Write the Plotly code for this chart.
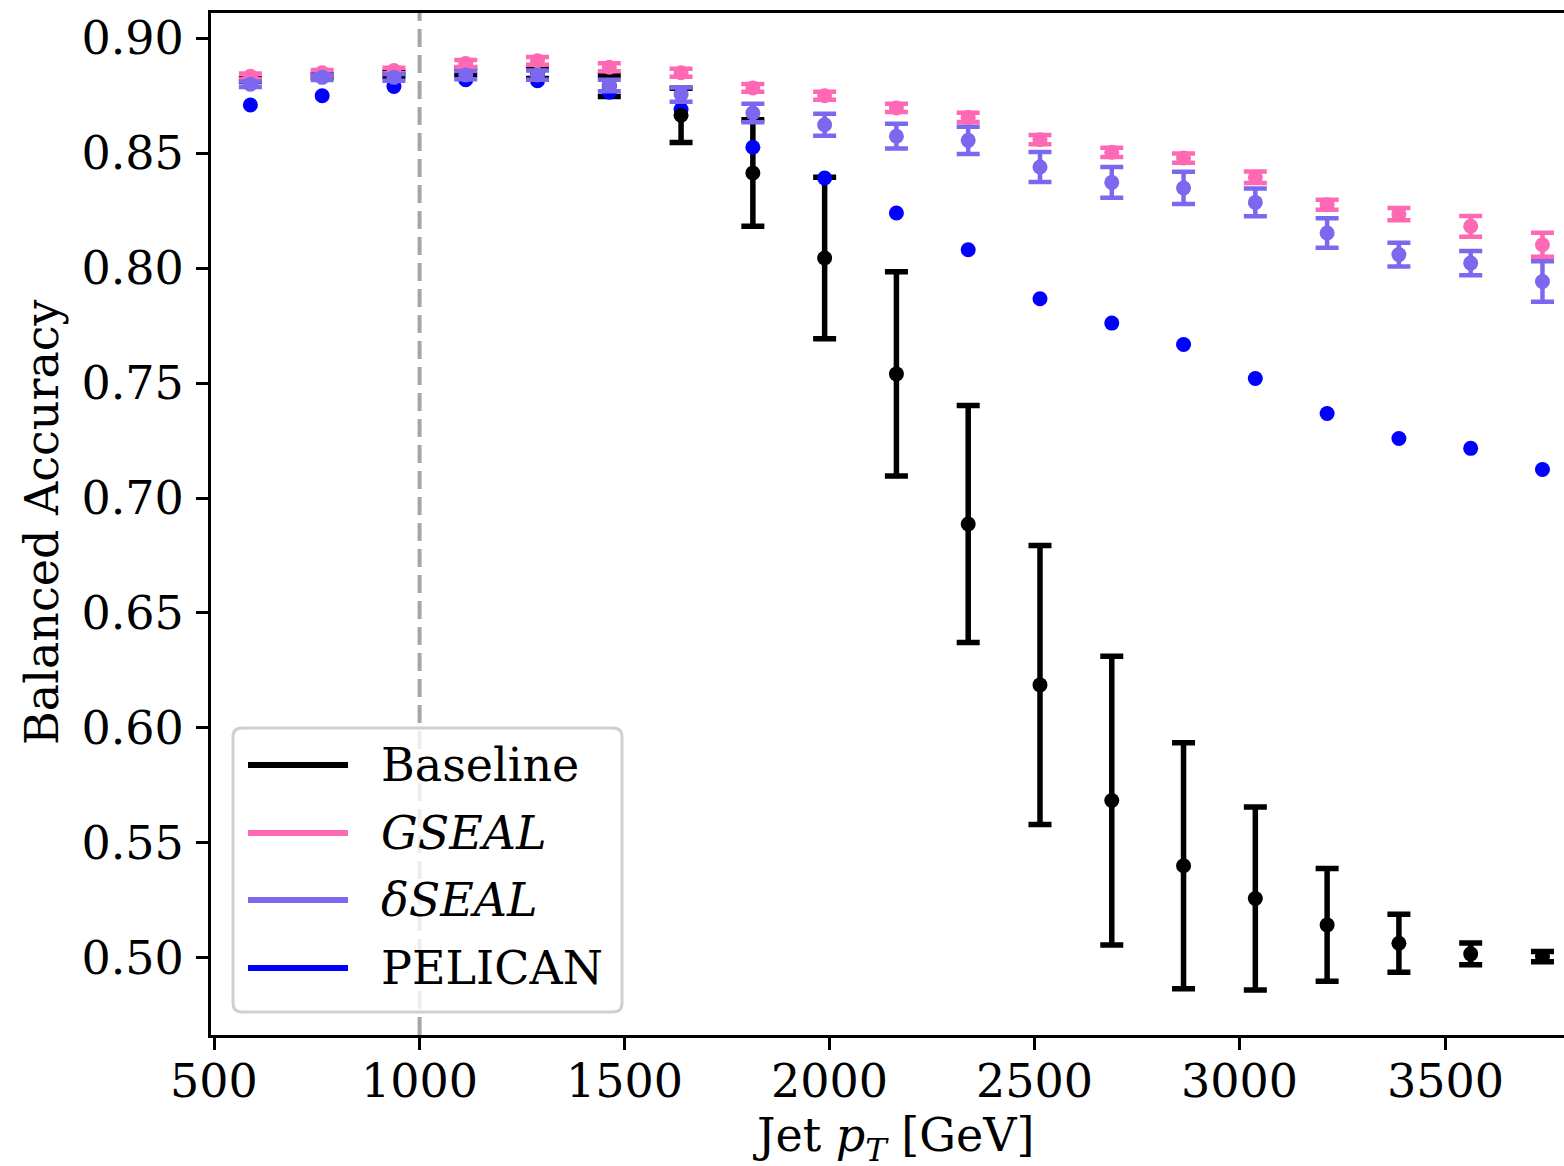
import plotly.graph_objects as go

# Jet pT bin centres [GeV]
pt_centers = [587.5, 762.5, 937.5, 1112.5, 1287.5, 1462.5, 1637.5, 1812.5, 1987.5,
              2162.5, 2337.5, 2512.5, 2687.5, 2862.5, 3037.5, 3212.5, 3387.5, 3562.5, 3737.5]

# Balanced accuracy per model, with uncertainties
baseline = [0.8818, 0.8836, 0.8843, 0.8855, 0.8849, 0.8793, 0.8665, 0.8414, 0.8044,
            0.7540, 0.6887, 0.6187, 0.5684, 0.5400, 0.5258, 0.5143, 0.5063, 0.5017, 0.5005]
baseline_err = [0.0006, 0.0006, 0.0009, 0.0015, 0.0024, 0.0046, 0.0118, 0.0232, 0.0351,
                0.0444, 0.0516, 0.0607, 0.0628, 0.0535, 0.0398, 0.0245, 0.0126, 0.0047, 0.0022]

gseal = [0.8835, 0.8850, 0.8860, 0.8890, 0.8902, 0.8874, 0.8850, 0.8784, 0.8750,
         0.8697, 0.8656, 0.8559, 0.8504, 0.8479, 0.8395, 0.8276, 0.8235, 0.8182, 0.8102]
gseal_err = [0.0012, 0.0012, 0.0012, 0.0015, 0.0017, 0.0017, 0.0017, 0.0017, 0.0017,
             0.0018, 0.0020, 0.0020, 0.0020, 0.0020, 0.0025, 0.0022, 0.0027, 0.0045, 0.0052]

dseal = [0.8800, 0.8830, 0.8830, 0.8840, 0.8840, 0.8795, 0.8755, 0.8675, 0.8624,
         0.8574, 0.8556, 0.8440, 0.8373, 0.8349, 0.8286, 0.8153, 0.8059, 0.8022, 0.7942]
dseal_err = [0.0012, 0.0012, 0.0015, 0.0018, 0.0020, 0.0025, 0.0031, 0.0040, 0.0048,
             0.0054, 0.0059, 0.0065, 0.0067, 0.0070, 0.0060, 0.0064, 0.0052, 0.0053, 0.0088]

pelican = [0.8710, 0.8750, 0.8790, 0.8820, 0.8815, 0.8765, 0.8690, 0.8526, 0.8392,
           0.8240, 0.8080, 0.7867, 0.7761, 0.7668, 0.7520, 0.7368, 0.7259, 0.7216, 0.7124]

x_ticks = [500, 1000, 1500, 2000, 2500, 3000, 3500]
x_ticklabels = ["500", "1000", "1500", "2000", "2500", "3000", "3500"]
y_ticks = [0.50, 0.55, 0.60, 0.65, 0.70, 0.75, 0.80, 0.85, 0.90]
y_ticklabels = ["0.50", "0.55", "0.60", "0.65", "0.70", "0.75", "0.80", "0.85", "0.90"]

legend_names = ["Baseline", "<i>GSEAL</i>", "<i>δSEAL</i>", "PELICAN"]

C_BASE = "#000000"
C_GSEAL = "#ff69b4"
C_DSEAL = "#7b68ee"
C_PELICAN = "#0000ff"
legend_colors = [C_BASE, C_GSEAL, C_DSEAL, C_PELICAN]

FONT = "DejaVu Serif"
FS = 46
MSIZE = 15
ETHICK = 4.5
ETHICK_BASE = 5.5
EWIDTH = 11.5

# figure geometry (pixels)
FIG_W, FIG_H = 1564, 1166
L, R, T, B = 211, 1564, 13, 1035
PW, PH = R - L, B - T


def px(x):
    return (x - L) / PW


def py(y):
    return (B - y) / PH


fig = go.Figure()

# Baseline error bars (drawn under the PELICAN points)
fig.add_trace(go.Scatter(
    x=pt_centers, y=baseline, mode="markers",
    marker=dict(size=MSIZE, color="rgba(0,0,0,0)"),
    error_y=dict(type="data", array=baseline_err, color=C_BASE,
                 thickness=ETHICK_BASE, width=EWIDTH),
    showlegend=False, hoverinfo="skip"))

fig.add_trace(go.Scatter(
    x=pt_centers, y=pelican, mode="markers", name="PELICAN",
    marker=dict(size=MSIZE, color=C_PELICAN, line=dict(width=0)),
    showlegend=False))

fig.add_trace(go.Scatter(
    x=pt_centers, y=baseline, mode="markers", name="Baseline",
    marker=dict(size=MSIZE, color=C_BASE, line=dict(width=0)),
    showlegend=False))

fig.add_trace(go.Scatter(
    x=pt_centers, y=gseal, mode="markers", name="GSEAL",
    marker=dict(size=MSIZE, color=C_GSEAL, line=dict(width=0)),
    error_y=dict(type="data", array=gseal_err, color=C_GSEAL,
                 thickness=ETHICK, width=EWIDTH),
    showlegend=False))

fig.add_trace(go.Scatter(
    x=pt_centers, y=dseal, mode="markers", name="δSEAL",
    marker=dict(size=MSIZE, color=C_DSEAL, line=dict(width=0)),
    error_y=dict(type="data", array=dseal_err, color=C_DSEAL,
                 thickness=ETHICK, width=EWIDTH),
    showlegend=False))

shapes = []
# reference line at 1 TeV
shapes.append(dict(type="line", xref="x", yref="paper", x0=1000, x1=1000, y0=0, y1=1,
                   line=dict(color="#a6a6a6", width=4, dash="18px,8px"), layer="below"))

# legend frame with rounded corners
bx0, by0, bx1, by1, rr = 233, 728, 622, 1012, 9
path = (f"M {px(bx0 + rr)},{py(by0)} L {px(bx1 - rr)},{py(by0)} "
        f"Q {px(bx1)},{py(by0)} {px(bx1)},{py(by0 + rr)} "
        f"L {px(bx1)},{py(by1 - rr)} Q {px(bx1)},{py(by1)} {px(bx1 - rr)},{py(by1)} "
        f"L {px(bx0 + rr)},{py(by1)} Q {px(bx0)},{py(by1)} {px(bx0)},{py(by1 - rr)} "
        f"L {px(bx0)},{py(by0 + rr)} Q {px(bx0)},{py(by0)} {px(bx0 + rr)},{py(by0)} Z")
shapes.append(dict(type="path", xref="paper", yref="paper", path=path,
                   fillcolor="rgba(255,255,255,0.8)",
                   line=dict(color="#d0d0d0", width=3), layer="above"))

annotations = []
rows = [765, 833, 900, 968]
for name, col, ry in zip(legend_names, legend_colors, rows):
    shapes.append(dict(type="line", xref="paper", yref="paper",
                       x0=px(248), x1=px(348), y0=py(ry), y1=py(ry),
                       line=dict(color=col, width=6), layer="above"))
    annotations.append(dict(text=name, xref="paper", yref="paper",
                            x=px(379), y=py(ry), xanchor="left", yanchor="middle",
                            showarrow=False, font=dict(family=FONT, size=FS, color="black")))

# x tick labels, placed just below the tick marks
for tv, tl in zip(x_ticks, x_ticklabels):
    annotations.append(dict(text=tl, xref="x", yref="paper", x=tv, y=py(1081),
                            xanchor="center", yanchor="middle", showarrow=False,
                            font=dict(family=FONT, size=FS, color="black")))

# axis titles
annotations.append(dict(text="Jet <i>p</i><sub><i>T</i></sub> [GeV]", xref="paper", yref="paper",
                        x=px(893), y=py(1138), xanchor="center", yanchor="middle",
                        showarrow=False, font=dict(family=FONT, size=FS, color="black")))
annotations.append(dict(text="Balanced Accuracy", xref="paper", yref="paper",
                        x=px(42), y=py(522), xanchor="center", yanchor="middle",
                        textangle=-90, showarrow=False,
                        font=dict(family=FONT, size=FS, color="black")))

fig.update_layout(
    width=FIG_W, height=FIG_H,
    margin=dict(l=L, r=FIG_W - R, t=T, b=FIG_H - B, pad=0),
    paper_bgcolor="white", plot_bgcolor="white",
    font=dict(family=FONT, size=FS, color="black"),
    shapes=shapes, annotations=annotations,
    showlegend=False,
)

fig.update_xaxes(
    range=[491.5, 3790], tickmode="array", tickvals=x_ticks, showticklabels=False,
    showgrid=False, zeroline=False,
    showline=True, linecolor="black", linewidth=3, mirror=True,
    ticks="outside", ticklen=12, tickwidth=2.5, tickcolor="black",
)
fig.update_yaxes(
    range=[0.4664, 0.911], tickmode="array", tickvals=y_ticks, ticktext=y_ticklabels,
    showgrid=False, zeroline=False,
    showline=True, linecolor="black", linewidth=3, mirror=False,
    ticks="outside", ticklen=12, tickwidth=2.5, tickcolor="black",
    ticklabelstandoff=3,
    tickfont=dict(family=FONT, size=FS, color="black"),
)

fig.write_html("out.html", config={"displayModeBar": False})
